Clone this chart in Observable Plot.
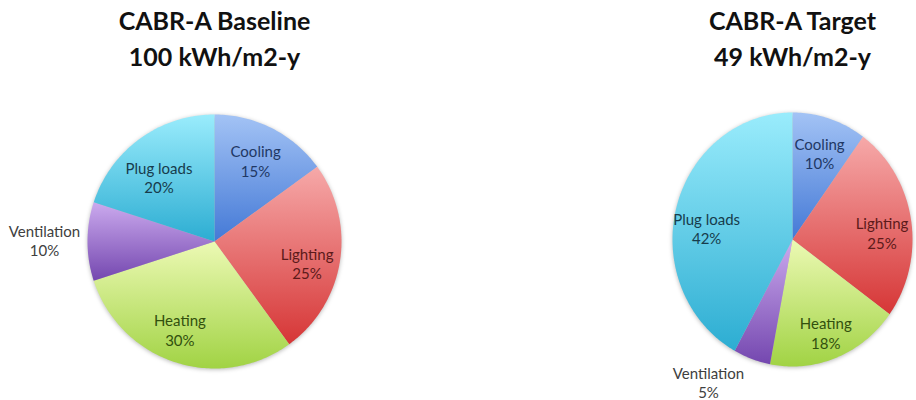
<!DOCTYPE html>
<html>
<head>
<meta charset="utf-8">
<script src="https://cdn.jsdelivr.net/npm/d3@7"></script>
<script src="https://cdn.jsdelivr.net/npm/@observablehq/plot@0.6"></script>
<style>
  html, body { margin: 0; padding: 0; background: #ffffff; }
  #chart svg .pie-slices { filter: drop-shadow(0px 1px 2px rgba(0,0,0,0.28)); }
</style>
</head>
<body>
<div id="chart"></div>
<script>
// ---------- data ----------
const categories = ["Cooling", "Lighting", "Heating", "Ventilation", "Plug loads"];
const baselineShares = [15, 25, 30, 10, 20];
const targetShares = [10, 25, 18, 5, 42];
const pieTitles = ["CABR-A Baseline\n100 kWh/m2-y", "CABR-A Target\n49 kWh/m2-y"];

// ---------- styles / layout ----------
const gradientStops = {
  "Cooling":     ["#a3c3f5", "#4479d6"],
  "Lighting":    ["#f6a9a9", "#d63636"],
  "Heating":     ["#ecf9b4", "#a1d344"],
  "Ventilation": ["#cbaaee", "#7447af"],
  "Plug loads":  ["#9aecfc", "#2cadd2"]
};
const labelColors = {
  "Cooling": "#1f3864", "Lighting": "#5c1a1a", "Heating": "#32500e",
  "Ventilation": "#404040", "Plug loads": "#173c4c"
};
const pies = [
  {shares: baselineShares, title: pieTitles[0], cx: 214, cy: 241, rx: 127, ry: 127,
   nudge: {"Cooling": [-1, 2], "Lighting": [1, 7], "Heating": [-6, 0], "Plug loads": [-1, 11]},
   outside: {"Ventilation": [-170, -1]}},
  {shares: targetShares, title: pieTitles[1], cx: 792, cy: 239, rx: 120, ry: 127,
   nudge: {"Cooling": [0, 2], "Lighting": [3, 8], "Heating": [1, 7], "Plug loads": [-1, 12]},
   outside: {"Ventilation": [-84, 143]}}
];
const labelK = 0.73;

// ---------- build geometry from data ----------
const pieGen = d3.pie().sort(null).value(d => d);
const slicePts = [];
const labels = [];
const titles = [];
pies.forEach((p, pi) => {
  const arcs = pieGen(p.shares);
  arcs.forEach((a, i) => {
    const cat = categories[i];
    const key = pi + "-" + i;
    const fill = `url(#grad-${i})`;
    slicePts.push({key, fill, pie: pi, x: p.cx, y: p.cy});
    const steps = Math.max(2, Math.ceil((a.endAngle - a.startAngle) / (Math.PI / 180)));
    for (let s = 0; s <= steps; s++) {
      const t = a.startAngle + (a.endAngle - a.startAngle) * s / steps;
      slicePts.push({key, fill, pie: pi, x: p.cx + p.rx * Math.sin(t), y: p.cy - p.ry * Math.cos(t)});
    }
    slicePts.push({key, fill, pie: pi, x: p.cx, y: p.cy});
    const mid = (a.startAngle + a.endAngle) / 2;
    let lx, ly;
    if (p.outside[cat]) {
      lx = p.cx + p.outside[cat][0];
      ly = p.cy + p.outside[cat][1];
    } else {
      const n = p.nudge[cat] || [0, 0];
      lx = p.cx + labelK * p.rx * Math.sin(mid) + n[0];
      ly = p.cy - labelK * p.ry * Math.cos(mid) + n[1];
    }
    labels.push({x: lx, y: ly, text: `${cat}\n${a.data}%`, color: labelColors[cat]});
  });
  titles.push({x: p.cx, y: 36, text: p.title});
});

const chart = Plot.plot({
  width: 916,
  height: 400,
  margin: 0,
  x: {domain: [0, 916], range: [0, 916], axis: null},
  y: {domain: [0, 400], range: [0, 400], axis: null},
  color: {type: "identity"},
  style: {fontFamily: "Lato, 'Open Sans', sans-serif", background: "#ffffff", overflow: "hidden"},
  marks: [
    Plot.line(slicePts.filter(d => d.pie === 0), {x: "x", y: "y", z: "key", fill: "fill", stroke: "none", curve: "linear", className: "pie-slices"}),
    Plot.line(slicePts.filter(d => d.pie === 1), {x: "x", y: "y", z: "key", fill: "fill", stroke: "none", curve: "linear", className: "pie-slices"}),
    Plot.text(labels, {x: "x", y: "y", text: "text", fill: "color", fontSize: 15, lineHeight: 1.3, textAnchor: "middle"}),
    Plot.text(titles, {x: "x", y: "y", text: "text", fill: "#111111", fontSize: 25, fontWeight: "bold", lineHeight: 1.44, textAnchor: "middle"})
  ]
});

// gradient definitions
const ns = "http://www.w3.org/2000/svg";
const defs = document.createElementNS(ns, "defs");
categories.forEach((cat, i) => {
  const g = document.createElementNS(ns, "linearGradient");
  g.setAttribute("id", `grad-${i}`);
  g.setAttribute("x1", "0"); g.setAttribute("y1", "0");
  g.setAttribute("x2", "0"); g.setAttribute("y2", "1");
  gradientStops[cat].forEach((c, j) => {
    const s = document.createElementNS(ns, "stop");
    s.setAttribute("offset", j === 0 ? "0" : "1");
    s.setAttribute("stop-color", c);
    g.appendChild(s);
  });
  defs.appendChild(g);
});
chart.insertBefore(defs, chart.firstChild);
document.getElementById("chart").appendChild(chart);
</script>
</body>
</html>
